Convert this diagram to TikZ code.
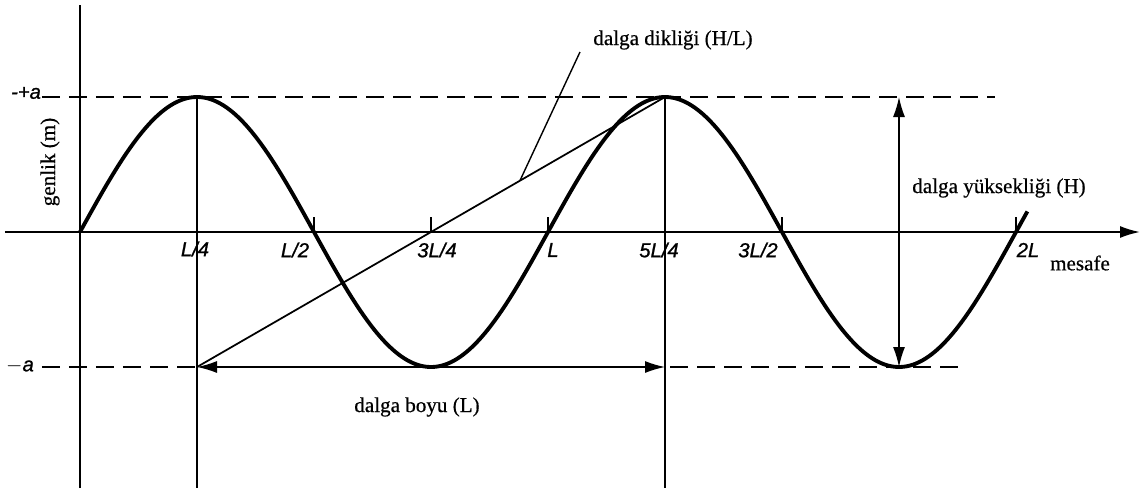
\documentclass[tikz,border=0pt]{standalone}
\usepackage{fontspec}
\setmainfont{Liberation Serif}[FakeBold=0.5]
\setsansfont{Liberation Sans}[FakeBold=1]
\usetikzlibrary{arrows.meta, calc}

\begin{document}
\begin{tikzpicture}[>={Latex[length=4mm, width=2.4mm]},
  etiket/.style={font=\sffamily\itshape\fontsize{11.5}{13}\selectfont},
  yazi/.style={font=\fontsize{12}{14}\selectfont},
  kesik/.style={dash pattern=on 3.6mm off 1.8mm, line width=0.8pt},
  ince/.style={line width=0.8pt}]
  \useasboundingbox (-1.6,-5.22) rectangle (21.34,4.64);
  % Noktalar
  \coordinate (O) at (0,0);
  \coordinate (tepe1) at (2.34,2.7);
  \coordinate (tepe2) at (11.70,2.7);
  \coordinate (alt1) at (2.34,-2.7);
  \coordinate (alt2) at (11.70,-2.7);
  \coordinate (dip) at (16.38,-2.7);
  \coordinate (dipust) at (16.38,2.7);
  % Eksenler
  \draw[line width=1.1pt] (0,-5.12) -- (0,4.54);
  \draw[->, line width=1.1pt] (-1.5,0) -- (21.2,0);
  \node[yazi, rotate=90] (genlik) at (-0.6,1.4) {genlik (m)};
  \node[yazi] (mesafe) at (20.0,-0.62) {mesafe};
  % Genlik seviyeleri
  \draw[kesik] (-0.76,2.7) -- (18.3,2.7);
  \draw[kesik] (-0.76,-2.7) -- (alt1);
  \draw[kesik] (11.8,-2.7) -- (17.6,-2.7);
  \node[etiket] (artia) at (-1.08,2.78) {-+a};
  \node[etiket] (eksia) at (-1.2,-2.68) {$-$a};
  % Dalga
  \draw[line width=2.2pt, domain=0:18.95, samples=200, smooth]
    plot (\x, {2.7*sin(\x/9.36*360)});
  % Eksen isaretleri
  \foreach \t in {4.68,7.02,9.36,14.04,18.72}
    \draw[ince] (\t,0) -- (\t,0.3);
  \node[etiket] (l4) at (2.3,-0.34) {L/4};
  \node[etiket] (l2) at (4.3,-0.36) {L/2};
  \node[etiket] (l34) at (7.14,-0.36) {3L/4};
  \node[etiket] (l1) at (9.46,-0.36) {L};
  \node[etiket] (l54) at (11.58,-0.36) {5L/4};
  \node[etiket] (l32) at (13.56,-0.36) {3L/2};
  \node[etiket] (l2l) at (18.96,-0.36) {2L};
  % Dusey cizgiler
  \draw[ince] (tepe1) -- (2.34,-5.12);
  \draw[ince] (tepe2) -- (11.70,-5.12);
  % Dalga boyu
  \draw[<->, ince] (alt1) -- (alt2);
  \node[yazi] (boy) at (6.74,-3.5) {dalga boyu (L)};
  % Dalga yuksekligi
  \draw[<->, ince] (dipust) -- (dip);
  \node[yazi] (yuk) at (18.38,0.88) {dalga yüksekliği (H)};
  % Dalga dikligi
  \draw[line width=1pt] (tepe2) -- (alt1);
  \coordinate (dik) at ($(tepe2)!0.31!(alt1)$);
  \node[yazi] (diklik) at (11.86,3.84) {dalga dikliği (H/L)};
  \draw[ince] (dik) -- (10.0,3.6);
\end{tikzpicture}
\end{document}
